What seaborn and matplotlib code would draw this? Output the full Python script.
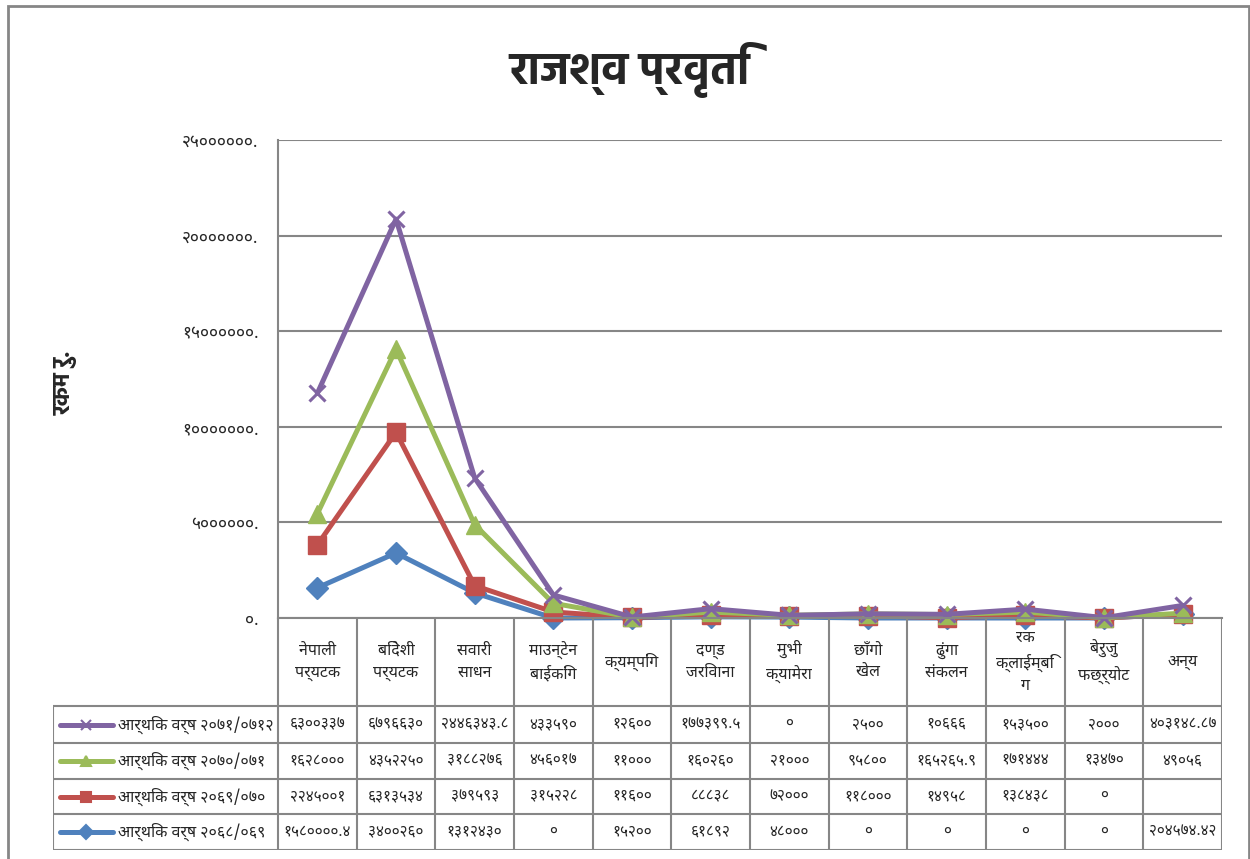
import numpy as np
import pandas as pd
import seaborn as sns
import matplotlib
matplotlib.use("Agg")
import matplotlib.pyplot as plt
from matplotlib import font_manager
from matplotlib.ft2font import FT2Font
from matplotlib.patches import Rectangle

# ---- data ----
categories = ["नेपाली\nपर्यटक", "बिदेशी\nपर्यटक", "सवारी\nसाधन", "माउन्टेन\nबाईकिंग",
              "क्यम्पिंग", "दण्ड\nजरिवाना", "मुभी\nक्यामेरा", "छाँगो\nखेल",
              "ढुंगा\nसंकलन", "रक\nक्लाईम्बिं\nग", "बेरुजु\nफछ्र्योट", "अन्य"]

label_068 = "आर्थिक वर्ष २०६८/०६९"
label_069 = "आर्थिक वर्ष २०६९/०७०"
label_070 = "आर्थिक वर्ष २०७०/०७१"
label_071 = "आर्थिक वर्ष २०७१/०७१२"

fy_068 = [1580000.4, 3400260, 1312430, 0, 15200, 61892, 48000, 0, 0, 0, 0, 204574.42]
fy_069 = [2245001, 6313534, 379593, 315228, 11600, 88838, 72000, 118000, 14958, 138438, 0, None]
fy_070 = [1628000, 4352250, 3188276, 456017, 11000, 160260, 21000, 95800, 165265.9, 171444, 13470, 49056]
fy_071 = [6300337, 6796630, 2446343.8, 433590, 12600, 177399.5, 0, 2500, 10666, 153500, 2000, 403148.87]

title = "राजश्व प्रवृति"
ylabel = "रकम रु."
yticks = [0, 5000000, 10000000, 15000000, 20000000, 25000000]

# ---- fonts: pick an installed family that can draw Devanagari ----
prefs = ["Noto Sans Devanagari", "Hind", "Mukta", "Poppins", "Amiko",
         "FreeSans", "Anek Devanagari"]
have = {}
for f in font_manager.fontManager.ttflist:
    try:
        if 0x0915 in FT2Font(f.fname).get_charmap():
            have.setdefault(f.name, []).append((f.weight, f.fname))
    except Exception:
        pass

deva = next((p for p in prefs if p in have), sorted(have)[0] if have else None)

bold_prop = None
for p in ([deva] if deva else []) + prefs:
    for w, fn in have.get(p, []):
        if isinstance(w, int) and w >= 600 and "[" not in fn:
            bold_prop = fn
            break
    if bold_prop:
        break

sns.set_theme(style="white")
fams = [deva, "DejaVu Sans"] if deva else ["DejaVu Sans"]
plt.rcParams["font.family"] = fams

DIG = str.maketrans("0123456789", "०१२३४५६७८९")

def deva_num(v):
    if v is None or (isinstance(v, float) and np.isnan(v)):
        return ""
    s = ("%.2f" % v).rstrip("0").rstrip(".")
    return s.translate(DIG)

# stacked line chart: bottom series first
series = [(label_068, fy_068, "#4F81BD", "D", 11),
          (label_069, fy_069, "#C0504D", "s", 13),
          (label_070, fy_070, "#9BBB59", "^", 13),
          (label_071, fy_071, "#8064A2", "x", 12)]

vals = pd.DataFrame({lab: pd.Series(v, dtype="float") for lab, v, *_ in series})
stacked = vals.fillna(0).cumsum(axis=1)
stacked["pos"] = np.arange(len(categories))

fig = plt.figure(figsize=(12.5, 8.59), dpi=100)
W, H = 1250, 859
gray = "#868686"

# outer frame
fig.patches.append(Rectangle((8 / W, -0.02), (1249 - 8) / W, 1.02 - 6 / H,
                             transform=fig.transFigure, fill=False,
                             edgecolor=gray, lw=2))

ax = fig.add_axes([278 / W, 1 - 618 / H, (1222 - 278) / W, (618 - 140) / H])
for lab, v, col, mk, ms in series:
    sns.lineplot(data=stacked, x="pos", y=lab, ax=ax, color=col, lw=3.6,
                 marker=mk, markersize=ms, markeredgecolor=col,
                 markeredgewidth=2.2 if mk == "x" else 1, label=lab, legend=False)

ax.set_xlim(-0.5, len(categories) - 0.5)
ax.set_ylim(0, 25000000)
ax.set_yticks(yticks)
ax.set_yticklabels([deva_num(t) + "." for t in yticks], fontsize=12.5)
ax.set_xticks([])
ax.set_xlabel("")
ax.set_ylabel("")
ax.yaxis.grid(True, color=gray, lw=1.5)
ax.tick_params(axis="y", length=0, pad=14)
for s in ["top", "right"]:
    ax.spines[s].set_visible(False)
for s in ["left", "bottom"]:
    ax.spines[s].set_color(gray)
    ax.spines[s].set_linewidth(1.5)
for ln in ax.lines:
    ln.set_clip_on(False)

if bold_prop:
    tkw = dict(fontproperties=font_manager.FontProperties(fname=bold_prop, size=32))
    ykw = dict(fontproperties=font_manager.FontProperties(fname=bold_prop, size=17))
else:
    tkw = dict(fontsize=32, fontweight="bold")
    ykw = dict(fontsize=17, fontweight="bold")
fig.text(630 / W, 1 - 70 / H, title, ha="center", va="center", **tkw)
fig.text(66 / W, 1 - 383 / H, ylabel, ha="center", va="center", rotation=90, **ykw)

# ---- data table under the plot ----
axt = fig.add_axes([53 / W, 1 - 850 / H, (1222 - 53) / W, (850 - 618) / H])
left = -0.5 - (278 - 53) / 78.67
axt.set_xlim(left, len(categories) - 0.5)
axt.set_ylim(232, 0)
axt.axis("off")

rows = [0, 88, 125, 161, 196, 232]
for y in rows[1:]:
    axt.plot([left, len(categories) - 0.5], [y, y], color=gray, lw=1.5)
axt.plot([left, left], [rows[1], rows[-1]], color=gray, lw=1.5)
for i in range(len(categories) + 1):
    axt.plot([i - 0.5, i - 0.5], [0, rows[-1]], color=gray, lw=1.5)

for i, c in enumerate(categories):
    axt.text(i, rows[1] / 2, c, ha="center", va="center", fontsize=11.5,
             linespacing=1.5)

table_order = series[::-1]
key_x0 = left + (60 - 53) / 78.67
key_x1 = left + (113 - 53) / 78.67
for r, (lab, v, col, mk, ms) in enumerate(table_order):
    yc = (rows[r + 1] + rows[r + 2]) / 2
    axt.plot([key_x0, key_x1], [yc, yc], color=col, lw=3.6)
    axt.plot([(key_x0 + key_x1) / 2], [yc], color=col, marker=mk, markersize=7,
             markeredgewidth=1.5)
    axt.text(left + (118 - 53) / 78.67, yc, lab, ha="left", va="center", fontsize=11.5)
    for i, x in enumerate(v):
        axt.text(i, yc, deva_num(x), ha="center", va="center", fontsize=11)

fig.savefig("out.png", dpi=100)
